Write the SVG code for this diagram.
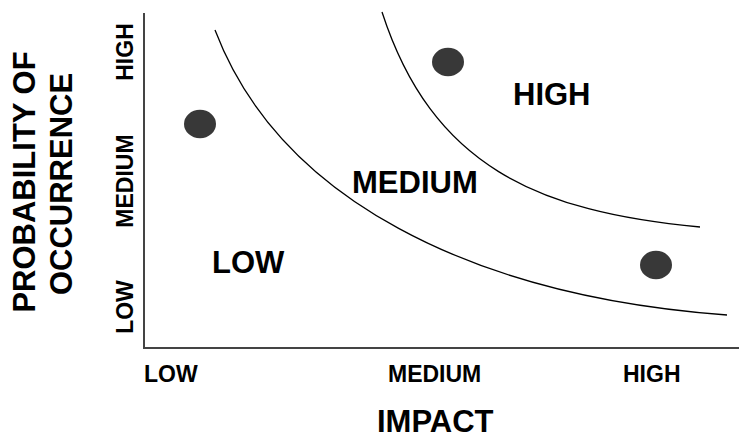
<svg xmlns="http://www.w3.org/2000/svg" width="739" height="439" viewBox="0 0 739 439">
<style>
  .t { font-family: "Liberation Sans", Arial, sans-serif; font-weight: bold; fill: #000; }
  .big { font-size: 31px; }
  .tick { font-size: 23px; }
  .axis { stroke: #444; stroke-width: 2; fill: none; }
  .curve { stroke: #000; stroke-width: 1.3; fill: none; }
  .dot { fill: #383838; }
</style>
<rect width="739" height="439" fill="#fff"/>
<g id="axes">
  <path class="axis" d="M144,13 V348 H739"/>
</g>
<g id="connectors">
  <path class="curve" d="M215,30 C279,198 470,296 727,315"/>
  <path class="curve" d="M382,12 C432,166 537,212 700,227"/>
</g>
<g id="risk-low-high"><ellipse class="dot" cx="200" cy="124" rx="16" ry="14.3"/></g>
<g id="risk-med-high"><ellipse class="dot" cx="448" cy="62" rx="16" ry="14.3"/></g>
<g id="risk-high-low"><ellipse class="dot" cx="656" cy="265" rx="16" ry="14.3"/></g>
<g id="zone-high"><text class="t big" x="513" y="105">HIGH</text></g>
<g id="zone-medium"><text class="t big" x="352" y="193">MEDIUM</text></g>
<g id="zone-low"><text class="t big" x="212" y="273">LOW</text></g>
<g id="x-axis-labels">
  <text class="t tick" x="144" y="382">LOW</text>
  <text class="t tick" x="388" y="382">MEDIUM</text>
  <text class="t tick" x="623" y="382">HIGH</text>
  <text class="t big" x="377" y="432">IMPACT</text>
</g>
<g id="y-axis-labels">
  <text class="t tick" text-anchor="middle" transform="translate(133,52) rotate(-90)">HIGH</text>
  <text class="t tick" text-anchor="middle" transform="translate(133,181) rotate(-90)">MEDIUM</text>
  <text class="t tick" text-anchor="middle" transform="translate(133,307) rotate(-90)">LOW</text>
  <text class="t big" text-anchor="middle" transform="translate(35,182) rotate(-90)">PROBABILITY OF</text>
  <text class="t big" text-anchor="middle" transform="translate(72,184) rotate(-90)">OCCURRENCE</text>
</g>
</svg>
